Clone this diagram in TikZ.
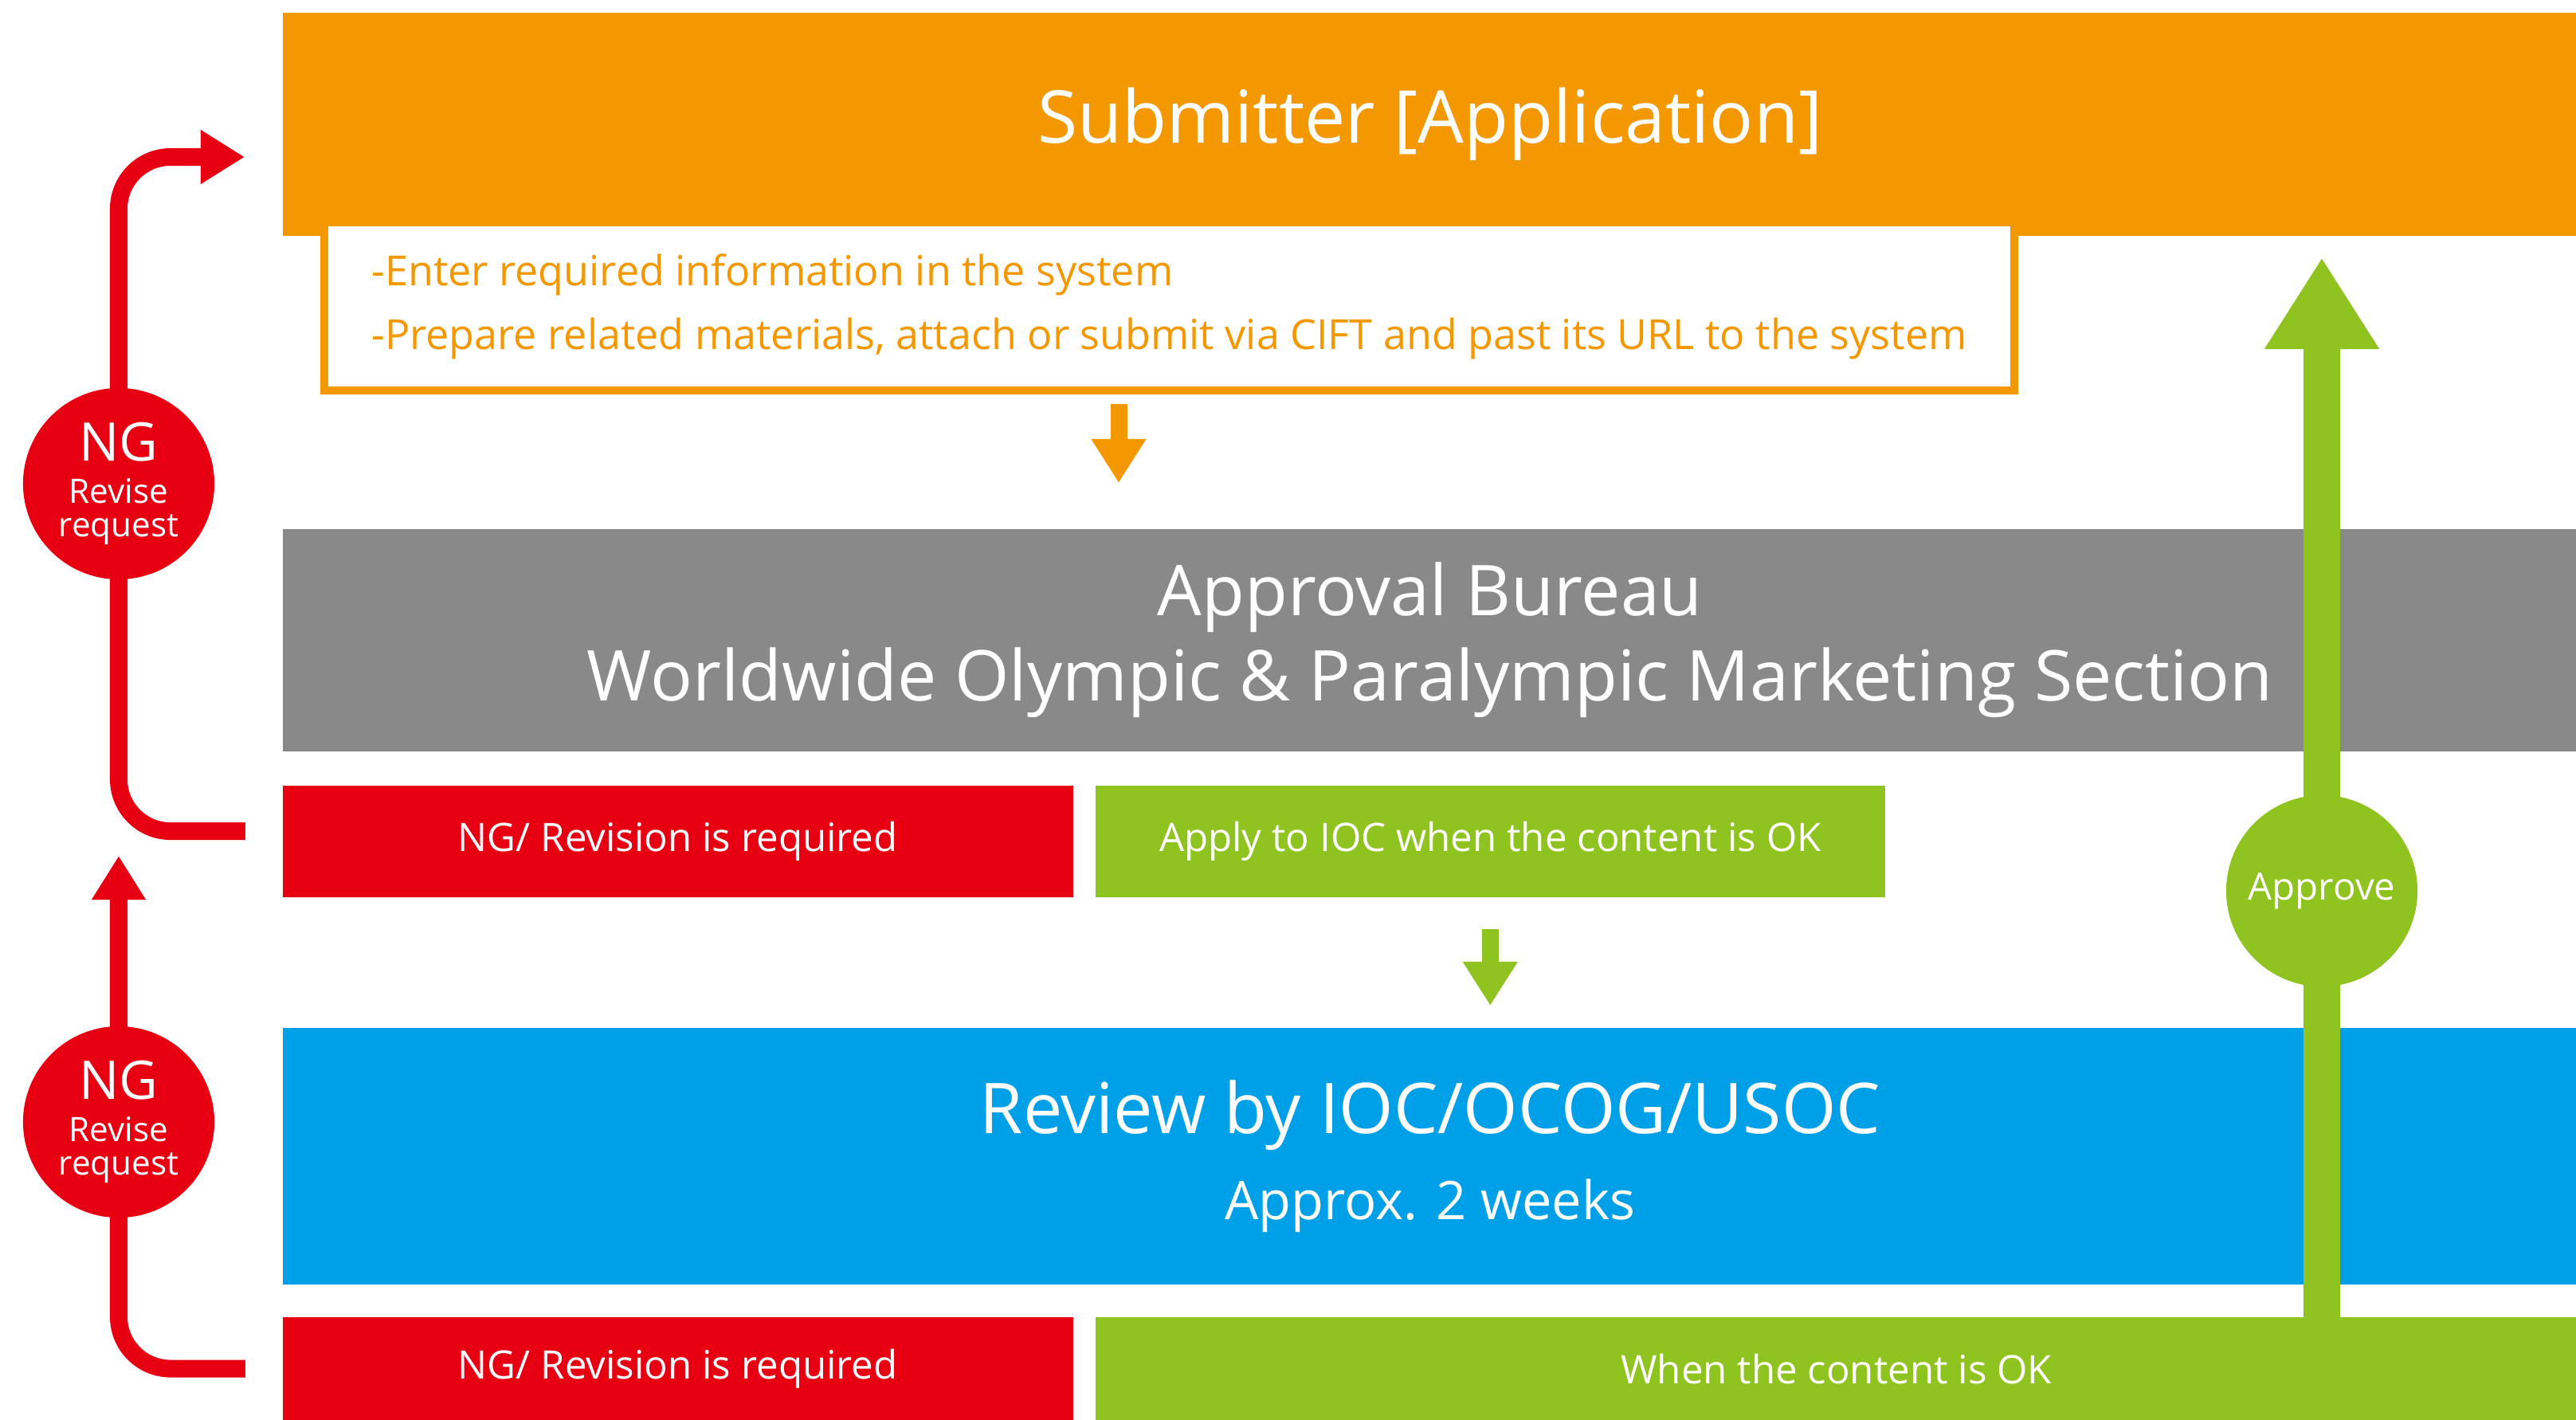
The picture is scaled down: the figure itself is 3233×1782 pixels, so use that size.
\documentclass[tikz,border=0pt]{standalone}
\usepackage{fontspec}
\setmainfont{Open Sans}
\usetikzlibrary{arrows.meta}

\definecolor{subOrange}{HTML}{F39800}
\definecolor{bureauGray}{HTML}{898989}
\definecolor{ngRed}{HTML}{E60012}
\definecolor{okGreen}{HTML}{8FC31F}
\definecolor{iocBlue}{HTML}{00A0E9}

\begin{document}
\begin{tikzpicture}[x=0.01cm, y=-0.01cm,
    band/.style={inner sep=0pt, outer sep=0pt, anchor=north west, text=white, align=center},
    bubble/.style={circle, inner sep=0pt, minimum size=2.4cm, text=white, align=center},
    flowarrow/.style={line width=2.1mm, -{Triangle[width=6.5mm, length=5.5mm]}},
    ngline/.style={ngRed, line width=2.2mm, rounded corners=6.5mm, -{Triangle[width=6.4mm, length=5.5mm]}}]
    \useasboundingbox (0,0) rectangle (3233,1782);

    % Submitter
    \node[band, fill=subOrange, minimum width=28.78cm, minimum height=2.8cm,
          font=\fontsize{26}{30}\selectfont] (submit) at (355,16) {Submitter [Application]};
    \node[band, draw=subOrange, line width=1mm, fill=white, text=subOrange, align=left,
          minimum width=21.2cm, minimum height=2.11cm,
          font=\fontsize{14.8}{22.8}\selectfont] (todo) at (407,279)
          {-Enter required information in the system\\
           -Prepare related materials, attach or submit via CIFT and past its URL to the system};

    % Approval Bureau
    \node[band, fill=bureauGray, minimum width=28.78cm, minimum height=2.79cm,
          font=\fontsize{25}{30.4}\selectfont] (bureau) at (355,664)
          {Approval Bureau\\Worldwide Olympic \& Paralympic Marketing Section};
    \node[band, fill=ngRed, minimum width=9.91cm, minimum height=1.4cm,
          font=\fontsize{14}{16}\selectfont] (ngA) at (355,986) {NG/ Revision is required};
    \node[band, fill=okGreen, minimum width=9.9cm, minimum height=1.4cm,
          font=\fontsize{14}{16}\selectfont] (okA) at (1375,986) {Apply to IOC when the content is OK};

    % Review
    \node[band, fill=iocBlue, minimum width=28.78cm, minimum height=3.22cm,
          font=\fontsize{25}{30.7}\selectfont] (review) at (355,1290)
          {Review by IOC/OCOG/USOC\\{\fontsize{19}{30.7}\selectfont Approx. 2 weeks}};
    \node[band, fill=ngRed, minimum width=9.91cm, minimum height=1.29cm,
          font=\fontsize{14}{16}\selectfont] (ngB) at (355,1653) {NG/ Revision is required};
    \node[band, fill=okGreen, minimum width=18.58cm, minimum height=1.29cm,
          font=\fontsize{14}{16}\selectfont] (okB) at (1375,1653) {When the content is OK};

    % Steps downwards
    \coordinate (orangeX) at (1404,0);
    \draw[flowarrow, subOrange, shorten <=0.17cm, shorten >=0.58cm]
        (todo.south -| orangeX) -- (bureau.north -| orangeX);
    \draw[flowarrow, okGreen, shorten <=0.4cm, shorten >=0.28cm]
        (okA.south) -- (okA.south |- review.north);

    % Approve
    \coordinate (approveX) at (2914,0);
    \draw[okGreen, line width=4.6mm, shorten >=0.27cm, -{Triangle[width=13.6mm, length=11.5mm]}]
        (okB.north -| approveX) -- (submit.south -| approveX);
    \node[bubble, fill=okGreen, font=\fontsize{13.5}{16}\selectfont] (approve) at (2914,1118) {Approve};

    % NG loops back
    \coordinate (rail) at (149,0);
    \coordinate (backA) at (307,197);
    \coordinate (backB) at (149,1074);
    \draw[ngline] ([xshift=-0.47cm, yshift=0.13cm]ngA.west) -| (rail |- backA) -- (backA);
    \draw[ngline] ([xshift=-0.47cm]ngB.west) -| (backB);
    \node[bubble, fill=ngRed, font=\fontsize{12}{12}\selectfont] (reviseA) at (149,607)
        {{\fontsize{19}{19}\selectfont NG}\\[0.11cm]Revise\\request};
    \node[bubble, fill=ngRed, font=\fontsize{12}{12}\selectfont] (reviseB) at (149,1408)
        {{\fontsize{19}{19}\selectfont NG}\\[0.11cm]Revise\\request};
\end{tikzpicture}
\end{document}
